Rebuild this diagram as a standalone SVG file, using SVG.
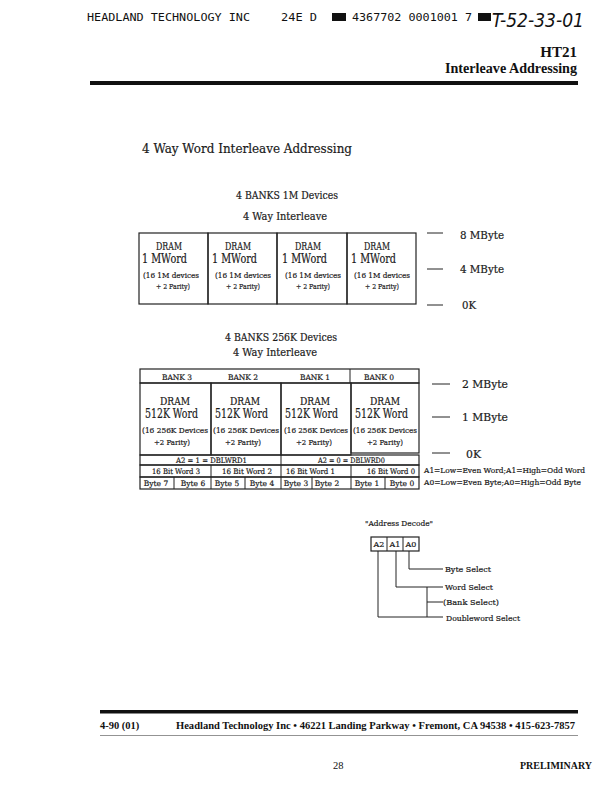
<svg xmlns="http://www.w3.org/2000/svg" width="614" height="792" viewBox="0 0 614 792">
<style>
.bg{fill:#fff}
.box{fill:none;stroke:#222;stroke-width:1.2}
.ln{fill:none;stroke:#222;stroke-width:1}
.rule{fill:#111}
.hdr{font-family:"DejaVu Sans Mono",monospace;font-size:10px;fill:#111}
.hand{font-family:"DejaVu Sans",sans-serif;font-style:italic;font-size:19px;fill:#111}
.bold{font-family:"Liberation Serif",serif;font-weight:bold;fill:#111}
.tw{font-family:"DejaVu Serif",serif;fill:#1a1a1a;stroke:#1a1a1a;stroke-width:0.2}
.t13{font-size:13px}
.t12{font-size:12px}
.t11{font-size:11px}
.t10{font-size:10px}
.t8{font-size:8px}
.t7{font-size:7.5px}
.mid{text-anchor:middle}
</style>
<rect class="bg" x="0" y="0" width="614" height="792"/>

<g id="page-header">
<text class="hdr" x="87" y="21" textLength="163" lengthAdjust="spacingAndGlyphs">HEADLAND TECHNOLOGY INC</text>
<text class="hdr" x="281" y="21" textLength="36" lengthAdjust="spacingAndGlyphs">24E D</text>
<rect class="rule" x="332" y="13" width="14" height="8"/>
<text class="hdr" x="352" y="21" textLength="120" lengthAdjust="spacingAndGlyphs">4367702 0001001 7</text>
<rect class="rule" x="478" y="13" width="13" height="8"/>
<text class="hand" x="492" y="27" textLength="92" lengthAdjust="spacingAndGlyphs">T-52-33-01</text>
<text class="bold" x="577" y="57" font-size="15" text-anchor="end">HT21</text>
<text class="bold" x="577" y="73" font-size="15" text-anchor="end" textLength="132" lengthAdjust="spacingAndGlyphs">Interleave Addressing</text>
<rect class="rule" x="90" y="81" width="488" height="4"/>
</g>

<g id="title">
<text class="tw t13" x="142" y="153" textLength="210" lengthAdjust="spacingAndGlyphs">4 Way Word Interleave Addressing</text>
</g>

<g id="block-1m">
<text class="tw t11" x="236" y="199" textLength="102" lengthAdjust="spacingAndGlyphs">4 BANKS 1M Devices</text>
<text class="tw t11" x="243" y="220" textLength="84" lengthAdjust="spacingAndGlyphs">4 Way Interleave</text>
<g id="bank1m-0">
<rect class="box" x="139" y="233" width="69" height="71"/>
<text class="tw t11" x="156" y="250" textLength="26" lengthAdjust="spacingAndGlyphs">DRAM</text>
<text class="tw t12" x="142" y="263" textLength="45" lengthAdjust="spacingAndGlyphs">1 MWord</text>
<text class="tw t8" x="143" y="278" textLength="56" lengthAdjust="spacingAndGlyphs">(16 1M devices</text>
<text class="tw t8" x="156" y="289" textLength="34" lengthAdjust="spacingAndGlyphs">+ 2 Parity)</text>
</g>
<g id="bank1m-1">
<rect class="box" x="208" y="233" width="69" height="71"/>
<text class="tw t11" x="225" y="250" textLength="26" lengthAdjust="spacingAndGlyphs">DRAM</text>
<text class="tw t12" x="212" y="263" textLength="45" lengthAdjust="spacingAndGlyphs">1 MWord</text>
<text class="tw t8" x="215" y="278" textLength="56" lengthAdjust="spacingAndGlyphs">(16 1M devices</text>
<text class="tw t8" x="226" y="289" textLength="34" lengthAdjust="spacingAndGlyphs">+ 2 Parity)</text>
</g>
<g id="bank1m-2">
<rect class="box" x="277" y="233" width="70" height="71"/>
<text class="tw t11" x="295" y="250" textLength="26" lengthAdjust="spacingAndGlyphs">DRAM</text>
<text class="tw t12" x="282" y="263" textLength="45" lengthAdjust="spacingAndGlyphs">1 MWord</text>
<text class="tw t8" x="285" y="278" textLength="56" lengthAdjust="spacingAndGlyphs">(16 1M devices</text>
<text class="tw t8" x="296" y="289" textLength="34" lengthAdjust="spacingAndGlyphs">+ 2 Parity)</text>
</g>
<g id="bank1m-3">
<rect class="box" x="347" y="233" width="69" height="71"/>
<text class="tw t11" x="364" y="250" textLength="26" lengthAdjust="spacingAndGlyphs">DRAM</text>
<text class="tw t12" x="351" y="263" textLength="45" lengthAdjust="spacingAndGlyphs">1 MWord</text>
<text class="tw t8" x="354" y="278" textLength="56" lengthAdjust="spacingAndGlyphs">(16 1M devices</text>
<text class="tw t8" x="365" y="289" textLength="34" lengthAdjust="spacingAndGlyphs">+ 2 Parity)</text>
</g>
<text class="tw t11" x="460" y="239" textLength="44" lengthAdjust="spacingAndGlyphs">8 MByte</text>
<text class="tw t11" x="460" y="273" textLength="44" lengthAdjust="spacingAndGlyphs">4 MByte</text>
<text class="tw t11" x="462" y="309" textLength="14" lengthAdjust="spacingAndGlyphs">0K</text>
</g>

<g id="block-256k">
<text class="tw t11" x="225" y="341" textLength="112" lengthAdjust="spacingAndGlyphs">4 BANKS 256K Devices</text>
<text class="tw t11" x="233" y="356" textLength="84" lengthAdjust="spacingAndGlyphs">4 Way Interleave</text>
<g id="bank-header">
<rect class="box" x="140" y="369" width="279" height="14"/>
<line class="ln" x1="350" y1="369" x2="350" y2="383"/>
<text class="tw t7 mid" x="177" y="380">BANK 3</text>
<text class="tw t7 mid" x="243" y="380">BANK 2</text>
<text class="tw t7 mid" x="315" y="380">BANK 1</text>
<text class="tw t7 mid" x="379" y="380">BANK 0</text>
</g>
<g id="bank256-3">
<rect class="box" x="140" y="383" width="71" height="72"/>
<text class="tw t11" x="160" y="405" textLength="30" lengthAdjust="spacingAndGlyphs">DRAM</text>
<text class="tw t12" x="145" y="418" textLength="53" lengthAdjust="spacingAndGlyphs">512K Word</text>
<text class="tw t8" x="142" y="433" textLength="66" lengthAdjust="spacingAndGlyphs">(16 256K Devices</text>
<text class="tw t8" x="154" y="445" textLength="36" lengthAdjust="spacingAndGlyphs">+2 Parity)</text>
</g>
<g id="bank256-2">
<rect class="box" x="211" y="383" width="70" height="72"/>
<text class="tw t11" x="230" y="405" textLength="30" lengthAdjust="spacingAndGlyphs">DRAM</text>
<text class="tw t12" x="215" y="418" textLength="53" lengthAdjust="spacingAndGlyphs">512K Word</text>
<text class="tw t8" x="213" y="433" textLength="66" lengthAdjust="spacingAndGlyphs">(16 256K Devices</text>
<text class="tw t8" x="225" y="445" textLength="36" lengthAdjust="spacingAndGlyphs">+2 Parity)</text>
</g>
<g id="bank256-1">
<rect class="box" x="281" y="383" width="70" height="72"/>
<text class="tw t11" x="300" y="405" textLength="30" lengthAdjust="spacingAndGlyphs">DRAM</text>
<text class="tw t12" x="285" y="418" textLength="53" lengthAdjust="spacingAndGlyphs">512K Word</text>
<text class="tw t8" x="284" y="433" textLength="64" lengthAdjust="spacingAndGlyphs">(16 256K Devices</text>
<text class="tw t8" x="296" y="445" textLength="36" lengthAdjust="spacingAndGlyphs">+2 Parity)</text>
</g>
<g id="bank256-0">
<rect class="box" x="351" y="383" width="68" height="70"/>
<text class="tw t11" x="370" y="405" textLength="30" lengthAdjust="spacingAndGlyphs">DRAM</text>
<text class="tw t12" x="355" y="418" textLength="53" lengthAdjust="spacingAndGlyphs">512K Word</text>
<text class="tw t8" x="353" y="433" textLength="64" lengthAdjust="spacingAndGlyphs">(16 256K Devices</text>
<text class="tw t8" x="367" y="445" textLength="36" lengthAdjust="spacingAndGlyphs">+2 Parity)</text>
</g>
<g id="a2-row">
<rect class="box" x="140" y="455" width="279" height="10"/>
<line class="ln" x1="281" y1="455" x2="281" y2="465"/>
<text class="tw t7" x="176" y="463" textLength="71" lengthAdjust="spacingAndGlyphs">A2 = 1 = DBLWRD1</text>
<text class="tw t7" x="318" y="463" textLength="67" lengthAdjust="spacingAndGlyphs">A2 = 0 = DBLWRD0</text>
</g>
<g id="word-row">
<rect class="box" x="140" y="465" width="279" height="12"/>
<line class="ln" x1="211" y1="465" x2="211" y2="477"/>
<line class="ln" x1="281" y1="465" x2="281" y2="477"/>
<line class="ln" x1="351" y1="465" x2="351" y2="477"/>
<text class="tw t7" x="152" y="474" textLength="48" lengthAdjust="spacingAndGlyphs">16 Bit Word 3</text>
<text class="tw t7" x="222" y="474" textLength="50" lengthAdjust="spacingAndGlyphs">16 Bit Word 2</text>
<text class="tw t7" x="286" y="474" textLength="49" lengthAdjust="spacingAndGlyphs">16 Bit Word 1</text>
<text class="tw t7" x="367" y="474" textLength="48" lengthAdjust="spacingAndGlyphs">16 Bit Word 0</text>
</g>
<g id="byte-row">
<rect class="box" x="140" y="477" width="279" height="12"/>
<line class="ln" x1="174" y1="477" x2="174" y2="489"/>
<line class="ln" x1="211" y1="477" x2="211" y2="489"/>
<line class="ln" x1="245" y1="477" x2="245" y2="489"/>
<line class="ln" x1="281" y1="477" x2="281" y2="489"/>
<line class="ln" x1="312" y1="477" x2="312" y2="489"/>
<line class="ln" x1="351" y1="477" x2="351" y2="489"/>
<line class="ln" x1="385" y1="477" x2="385" y2="489"/>
<text class="tw t7 mid" x="156" y="486">Byte 7</text>
<text class="tw t7 mid" x="193" y="486">Byte 6</text>
<text class="tw t7 mid" x="227" y="486">Byte 5</text>
<text class="tw t7 mid" x="262" y="486">Byte 4</text>
<text class="tw t7 mid" x="296" y="486">Byte 3</text>
<text class="tw t7 mid" x="327" y="486">Byte 2</text>
<text class="tw t7 mid" x="367" y="486">Byte 1</text>
<text class="tw t7 mid" x="402" y="486">Byte 0</text>
</g>
<text class="tw t11" x="462" y="388" textLength="46" lengthAdjust="spacingAndGlyphs">2 MByte</text>
<text class="tw t11" x="462" y="421" textLength="46" lengthAdjust="spacingAndGlyphs">1 MByte</text>
<text class="tw t11" x="466" y="458" textLength="15" lengthAdjust="spacingAndGlyphs">0K</text>
<text class="tw t8" x="424" y="473" textLength="161" lengthAdjust="spacingAndGlyphs">A1=Low=Even Word;A1=High=Odd Word</text>
<text class="tw t8" x="424" y="485" textLength="157" lengthAdjust="spacingAndGlyphs">A0=Low=Even Byte;A0=High=Odd Byte</text>
</g>

<g id="address-decode">
<text class="tw t8" x="365" y="526" textLength="68" lengthAdjust="spacingAndGlyphs">"Address Decode"</text>
<rect class="box" x="371" y="537" width="48" height="14"/>
<line class="ln" x1="387" y1="537" x2="387" y2="551"/>
<line class="ln" x1="403" y1="537" x2="403" y2="551"/>
<text class="tw t8 mid" x="379" y="547">A2</text>
<text class="tw t8 mid" x="395" y="547">A1</text>
<text class="tw t8 mid" x="411" y="547">A0</text>
<text class="tw t8" x="445" y="572" textLength="46" lengthAdjust="spacingAndGlyphs">Byte Select</text>
<text class="tw t8" x="445" y="590" textLength="48" lengthAdjust="spacingAndGlyphs">Word Select</text>
<text class="tw t8" x="443" y="605" textLength="56" lengthAdjust="spacingAndGlyphs">(Bank Select)</text>
<text class="tw t8" x="446" y="621" textLength="74" lengthAdjust="spacingAndGlyphs">Doubleword Select</text>
</g>

<g id="connectors">
<line class="ln" x1="427" y1="233" x2="443" y2="233"/>
<line class="ln" x1="427" y1="269" x2="443" y2="269"/>
<line class="ln" x1="427" y1="305" x2="443" y2="305"/>
<line class="ln" x1="432" y1="384" x2="450" y2="384"/>
<line class="ln" x1="432" y1="417" x2="450" y2="417"/>
<line class="ln" x1="432" y1="453" x2="450" y2="453"/>
<polyline class="ln" points="409,551 409,569 443,569"/>
<polyline class="ln" points="396,551 396,587 443,587"/>
<polyline class="ln" points="378,551 378,617 443,617"/>
<line class="ln" x1="427" y1="587" x2="427" y2="617"/>
<line class="ln" x1="427" y1="602" x2="443" y2="602"/>
</g>

<g id="page-footer">
<rect class="rule" x="100" y="710" width="478" height="3.5"/>
<text class="bold" x="100" y="729" font-size="10.5">4-90  (01)</text>
<text class="bold" x="176" y="729" font-size="10.5" textLength="399" lengthAdjust="spacingAndGlyphs">Headland Technology Inc • 46221 Landing Parkway • Fremont, CA 94538 • 415-623-7857</text>
<line x1="100" y1="735.5" x2="578" y2="735.5" stroke="#777" stroke-width="0.8"/>
<text x="333" y="769" font-family="Liberation Serif, serif" font-size="10.5" fill="#111">28</text>
<text class="bold" x="520" y="769" font-size="10.5" textLength="72" lengthAdjust="spacingAndGlyphs">PRELIMINARY</text>
</g>
</svg>
